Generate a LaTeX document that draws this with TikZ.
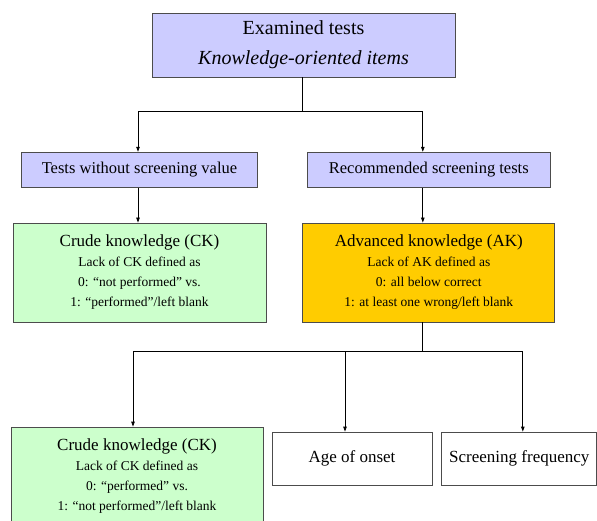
\documentclass[tikz,border=0pt]{standalone}
\usepackage{fontspec}
\setmainfont{Liberation Serif}
\usetikzlibrary{arrows.meta,positioning}
\definecolor{boxblue}{RGB}{204,204,255}
\definecolor{boxgreen}{RGB}{204,255,204}
\definecolor{boxgold}{RGB}{255,204,0}
\newcommand{\Head}[1]{{\fontsize{17}{20}\selectfont #1}}

\begin{document}
\begin{tikzpicture}[x=1pt, y=1pt,
    box/.style={draw=black!70, line width=0.8pt, align=center, inner sep=0pt},
    small/.style={font=\fontsize{13.5}{20}\selectfont},
    mid/.style={font=\fontsize{16.5}{20}\selectfont},
    arr/.style={-{Triangle[length=5pt,width=3.5pt]}, line width=0.8pt}]
    \useasboundingbox (0,0) rectangle (597,-521);

    \node (EX) [box, fill=boxblue, minimum width=303pt, minimum height=64pt,
        font=\fontsize{20}{30}\selectfont] at (303.5,-45)
        {Examined tests\\ \textit{Knowledge-oriented items}};
    \node (CK) [box, small, fill=boxgreen, minimum width=253pt, minimum height=99pt] at (139.5,-272.5)
        {\Head{Crude knowledge (CK)}\\ Lack of CK defined as\\ 0: “not performed” vs.\\ 1: “performed”/left blank};
    \node (AK) [box, small, fill=boxgold, minimum width=252pt, minimum height=99pt, right=36pt of CK]
        {\Head{Advanced knowledge (AK)}\\ Lack of AK defined as\\ 0: all below correct\\ 1: at least one wrong/left blank};
    \node (NS) [box, mid, fill=boxblue, minimum width=236pt, minimum height=35pt, above=35pt of CK]
        {Tests without screening value};
    \node (RC) [box, mid, fill=boxblue, minimum width=243pt, minimum height=35pt, above=35pt of AK]
        {Recommended screening tests};
    \node (C2) [box, small, fill=boxgreen, minimum width=252pt, minimum height=99pt] at (137,-476.5)
        {\Head{Crude knowledge (CK)}\\ Lack of CK defined as\\ 0: “performed” vs.\\ 1: “not performed”/left blank};
    \node (AG) [box, font=\fontsize{17}{20}\selectfont, minimum width=160pt, minimum height=53pt] at (352,-458.5)
        {Age of onset};
    \node (FQ) [box, font=\fontsize{17}{20}\selectfont, minimum width=155pt, minimum height=53pt, right=9pt of AG]
        {Screening frequency};

    \draw[line width=0.8pt] ([xshift=-1.5pt]EX.south) -- ++(0,-34) coordinate (J1);
    \draw[arr] (J1) -| ([xshift=-1.5pt]NS.north);
    \draw[arr] (J1) -| ([xshift=-6pt]RC.north);
    \draw[arr] ([xshift=-1.5pt]NS.south) -- ([xshift=-1.5pt]CK.north);
    \draw[arr] ([xshift=-6pt]RC.south) -- ([xshift=-6pt]AK.north);
    \draw[line width=0.8pt] ([xshift=-6pt]AK.south) -- ++(0,-29) coordinate (J2);
    \draw[arr] (J2) -| ([xshift=-4pt]C2.north);
    \draw[arr] (J2) -| ([xshift=-7pt]AG.north);
    \draw[arr] (J2) -| ([xshift=3.5pt]FQ.north);
\end{tikzpicture}
\end{document}
